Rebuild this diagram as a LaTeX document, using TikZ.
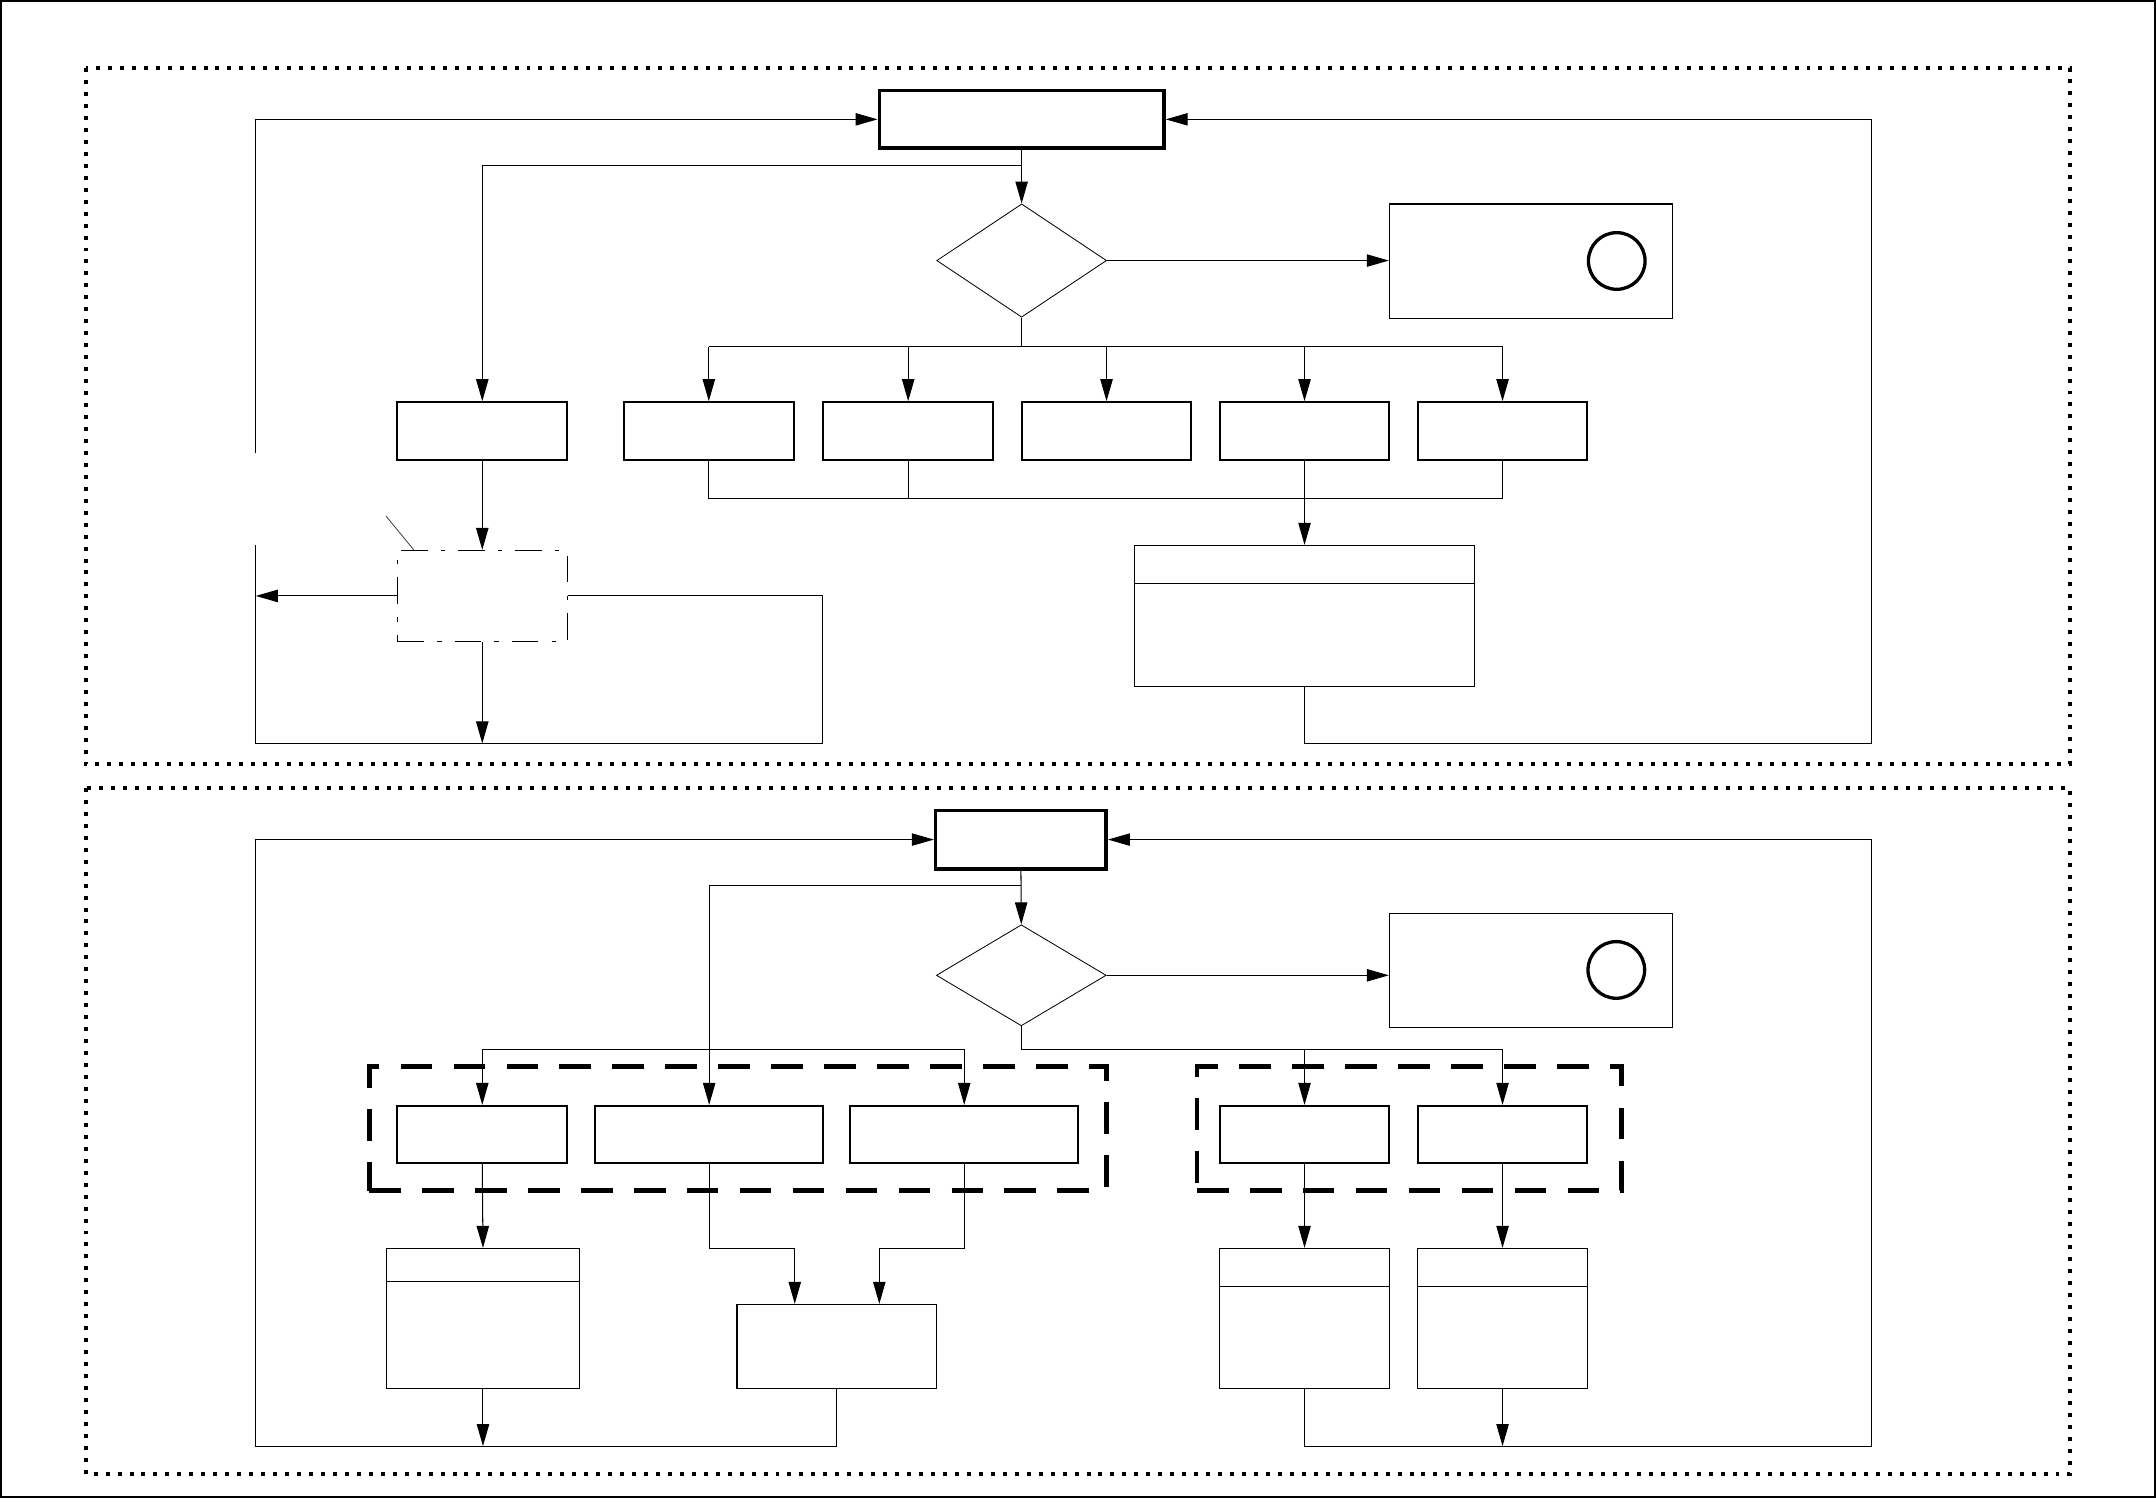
\documentclass[tikz,border=0pt]{standalone}
\usetikzlibrary{arrows.meta,shapes.geometric}
\begin{document}
\begin{tikzpicture}[x=1pt,y=-1pt,
 conn/.style={line width=0.75pt},
 arr/.style={conn,-{Triangle[length=16pt,width=9pt]}},
 box/.style={draw,line width=1.5pt,inner sep=0pt,minimum height=42pt,minimum width=123.5pt},
 thickbox/.style={draw,line width=2.6pt,inner sep=0pt,minimum height=42pt},
 plainbox/.style={draw,line width=0.9pt,inner sep=0pt},
 decision/.style={draw,diamond,line width=0.6pt,inner sep=0pt},
 ring/.style={draw,circle,line width=2.4pt,inner sep=0pt,minimum size=41.2pt},
 groupbox/.style={draw,line width=3.5pt,dash pattern=on 23pt off 15.5pt,inner sep=0pt,minimum height=90.4pt},
 frame/.style={line width=2.9pt,dash pattern=on 2.9pt off 5.8pt},
 dashdotbox/.style={draw,line width=0.8pt,dash pattern=on 19.4pt off 9.5pt on 3.2pt off 9.5pt,inner sep=0pt}
]
\useasboundingbox (0,0) rectangle (1568,1089.4);
\draw[line width=1.4pt] (0.7,0.7) rectangle (1567.3,1088.7);
% dotted frames
\draw[frame] (62.5,49.5) rectangle (1505.6,555.9);
\draw[frame] (62.5,573) rectangle (1505.6,1072);

% ===== upper panel =====
\node[thickbox,minimum width=207pt] (t1) at (743,86.8) {};
\node[decision,minimum width=123.5pt,minimum height=82.4pt] (d1) at (743,189.5) {};
\node[plainbox,minimum width=206pt,minimum height=83.2pt] (c1) at (1113.5,189.9) {};
\node[ring] (r1) at (1175.8,189.8) {};
\node[box] (b0) at (350.75,313.5) {};
\node[box,minimum width=124pt] (b1) at (515.5,313.5) {};
\node[box,minimum width=124pt] (b2) at (660.5,313.5) {};
\node[box] (b3) at (804.75,313.5) {};
\node[box] (b4) at (948.75,313.5) {};
\node[box] (b5) at (1092.75,313.5) {};
\node[plainbox,minimum width=247.5pt,minimum height=102.3pt] (tab1) at (948.75,447.85) {};
\draw[conn] ([yshift=-28.3pt]tab1.north west) -- ([yshift=-28.3pt]tab1.north east);
\node[dashdotbox,minimum width=123.5pt,minimum height=66.2pt] (dd1) at (350.75,433.4) {};
\coordinate (ptrA) at (280.7,375.3);
\coordinate (ptrB) at (301,400);
\draw[line width=0.6pt,black!75] (ptrA) -- (ptrB);

\draw[arr] (t1.south) -- (d1.north);
\coordinate (j1) at (743,120.4);
\draw[arr] (j1) -| (b0.north);
\draw[arr] (d1.east) -- (d1.east -| c1.west);
\coordinate (bus1) at (743,252);
\draw[conn] (d1.south) -- (bus1);
\draw[conn] (b1.north |- bus1) -- (b5.north |- bus1);
\foreach \n in {b1,b2,b3,b4,b5} \draw[arr] (\n.north |- bus1) -- (\n.north);
\coordinate (bus2) at (0,362.7);
\foreach \n in {b1,b2,b4,b5} \draw[conn] (\n.south) -- (\n.south |- bus2);
\draw[conn] (b1.south |- bus2) -- (b5.south |- bus2);
\draw[arr] (tab1.north |- bus2) -- (tab1.north);
\draw[arr] (b0.south) -- (dd1.north);

\coordinate (lgapTop) at (186,329.8);
\coordinate (lgapBot) at (186,396);
\coordinate (lb1) at (186,540.7);
\coordinate (rr1) at (598.5,540.7);
\draw[conn] (dd1.east) -- (dd1.east -| rr1) -- (rr1) -- (lb1) -- (lgapBot);
\draw[arr] (lgapTop) |- (t1.west);
\draw[arr] (dd1.west) -- (dd1.west -| lb1);
\draw[arr] (dd1.south) -- (dd1.south |- lb1);
\coordinate (rb1) at (1361,540.7);
\draw[arr] (tab1.south) |- (rb1) |- (t1.east);

% ===== lower panel =====
\node[thickbox,minimum width=124pt,minimum height=42.4pt] (t2) at (742.5,610.6) {};
\node[decision,minimum width=123.5pt,minimum height=73.5pt] (d2) at (742.75,709.3) {};
\node[plainbox,minimum width=206pt,minimum height=82.8pt] (c2) at (1113.5,705.7) {};
\node[ring] (r2) at (1175.5,705.4) {};
\node[groupbox,minimum width=536pt] (gA) at (536.5,820.8) {};
\node[groupbox,minimum width=309pt] (gB) at (1025,820.8) {};
\node[box,minimum height=41.4pt] (bA) at (350.75,825) {};
\node[box,minimum height=41.4pt,minimum width=165.5pt] (bB) at (515.75,825) {};
\node[box,minimum height=41.4pt,minimum width=165.5pt] (bC) at (701.25,825) {};
\node[box,minimum height=41.4pt] (bD) at (948.75,825) {};
\node[box,minimum height=41.4pt] (bE) at (1092.75,825) {};
\node[plainbox,minimum width=140.5pt,minimum height=102pt] (tA) at (351.25,959) {};
\draw[conn] ([yshift=-24.6pt]tA.north west) -- ([yshift=-24.6pt]tA.north east);
\node[plainbox,minimum width=145pt,minimum height=61.3pt] (fF) at (608.5,979.35) {};
\node[plainbox,minimum width=123.5pt,minimum height=102pt] (tD) at (948.75,959) {};
\draw[conn] ([yshift=-28.4pt]tD.north west) -- ([yshift=-28.4pt]tD.north east);
\node[plainbox,minimum width=123.5pt,minimum height=102pt] (tE) at (1092.75,959) {};
\draw[conn] ([yshift=-28.4pt]tE.north west) -- ([yshift=-28.4pt]tE.north east);

\draw[arr] (t2.south) -- (d2.north);
\coordinate (j2) at (742.5,644);
\draw[arr] (j2) -| (bB.north);
\draw[arr] (d2.east) -- (d2.east -| c2.west);
\coordinate (bus3) at (0,763);
\draw[conn] (d2.south) -- (d2.south |- bus3) -- (bE.north |- bus3);
\draw[arr] (bD.north |- bus3) -- (bD.north);
\draw[arr] (bE.north |- bus3) -- (bE.north);
\draw[conn] (bA.north |- bus3) -- (bC.north |- bus3);
\draw[arr] (bA.north |- bus3) -- (bA.north);
\draw[arr] (bC.north |- bus3) -- (bC.north);
\draw[arr] (bA.south) -- (tA.north);
\coordinate (fj) at (0,908);
\coordinate (fL) at (578,0);
\coordinate (fR) at (639.5,0);
\draw[arr] (bB.south) -- (bB.south |- fj) -- (fL |- fj) -- (fL |- fF.north);
\draw[arr] (bC.south) -- (bC.south |- fj) -- (fR |- fj) -- (fR |- fF.north);
\coordinate (lb2) at (186,1051.7);
\draw[arr] (fF.south) |- (lb2) |- (t2.west);
\draw[arr] (tA.south) -- (tA.south |- lb2);
\coordinate (rb2) at (1361,1051.7);
\draw[arr] (tD.south) |- (rb2) |- (t2.east);
\draw[arr] (bD.south) -- (tD.north);
\draw[arr] (bE.south) -- (tE.north);
\draw[arr] (tE.south) -- (tE.south |- rb2);
\end{tikzpicture}
\end{document}
